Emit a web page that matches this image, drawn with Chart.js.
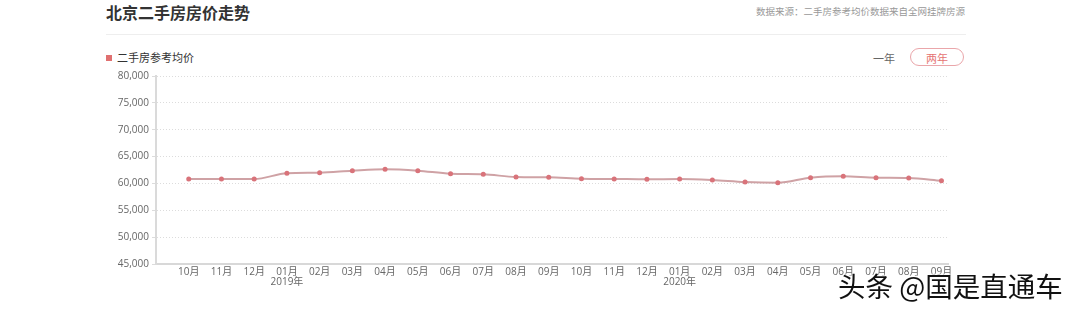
<!DOCTYPE html>
<html>
<head>
<meta charset="utf-8">
<script src="https://cdn.jsdelivr.net/npm/chart.js@4.4.0/dist/chart.umd.min.js"></script>
<style>
  body { margin:0; width:1080px; height:309px; background:#fff; position:relative; overflow:hidden;
         font-family:"Noto Sans CJK SC","Noto Sans",sans-serif; }
  .title { position:absolute; left:106px; top:0px; font-size:16px; font-weight:bold; color:#333; }
  .src { position:absolute; right:115px; top:4px; font-size:9.5px; color:#999; }
  .sep { position:absolute; left:106px; top:34px; width:860px; height:1px; background:#eee; }
  .legend { position:absolute; left:106px; top:49px; font-size:11px; color:#333; }
  .legend i { display:inline-block; width:6px; height:6px; background:#e07070; margin-right:5px; vertical-align:1px; }
  .yr1 { position:absolute; left:873px; top:50px; font-size:11px; color:#666; }
  .yr2 { position:absolute; left:910px; top:48px; width:54px; height:18px; border:1px solid #eaa6aa; border-radius:10px;
         font-size:11px; color:#e57373; text-align:center; line-height:18px; box-sizing:border-box; }
  #box { position:absolute; left:100px; top:66px; width:860px; height:226px; }
  .wm { position:absolute; left:838px; top:265px; font-size:27.5px; color:#111; white-space:nowrap;
        text-shadow:0 0 2px #fff, 0 0 2px #fff, 0 0 3px #fff; }
</style>
</head>
<body>
<div class="title">北京二手房房价走势</div>
<div class="src">数据来源：二手房参考均价数据来自全网挂牌房源</div>
<div class="sep"></div>
<div class="legend"><i></i>二手房参考均价</div>
<div class="yr1">一年</div>
<div class="yr2">两年</div>
<div id="box"><canvas id="myChart"></canvas></div>
<div class="wm">头条 @国是直通车</div>
<script>
var months = ["10月","11月","12月",["01月","2019年"],"02月","03月","04月","05月","06月","07月","08月","09月",
              "10月","11月","12月",["01月","2020年"],"02月","03月","04月","05月","06月","07月","08月","09月"];
var prices = [60830,60830,60830,61890,62000,62370,62630,62370,61810,61700,61200,61140,
              60880,60830,60770,60830,60640,60270,60140,61070,61330,61070,61010,60510];
var yTicks = [45000,80000,5000];

var pts = [];
for (var i = 0; i < prices.length; i++) {
    pts.push({x: i, y: prices[i]});
}

function numberWithCommas(x) {
    return x.toString().replace(/\B(?=(\d{3})+(?!\d))/g, ",");
}

var ctx = document.getElementById("myChart").getContext('2d');
var myChart = new Chart(ctx, {
    type: 'line',
    data: {
        datasets: [{
            label: "二手房参考均价",
            data: pts,
            borderColor: "#cfa2a5",
            borderWidth: 2,
            tension: 0.35,
            cubicInterpolationMode: 'monotone',
            pointRadius: 2.5,
            pointBackgroundColor: "#d9737a",
            pointBorderColor: "#d9737a",
            pointBorderWidth: 0,
            fill: false
        }]
    },
    options: {
        responsive: true,
        maintainAspectRatio: false,
        animation: false,
        layout: { padding: { top: 10, right: 12, left: 0, bottom: 0 } },
        plugins: { legend: { display: false }, tooltip: { enabled: false } },
        scales: {
            x: {
                type: 'linear',
                min: -1,
                max: 23.2,
                afterFit: function (s) { s.height = 28; },
                grid: { display: false, tickLength: 0 },
                border: { display: true, color: "#d8d8d8", width: 2 },
                ticks: {
                    stepSize: 1,
                    includeBounds: false,
                    autoSkip: false,
                    maxRotation: 0,
                    padding: 3,
                    color: "#666",
                    font: { size: 10, family: "'Open Sans','Noto Sans CJK SC',sans-serif", lineHeight: 1.0 },
                    callback: function (v) {
                        if (v < 0 || v !== Math.round(v) || v >= months.length) return '';
                        return months[v];
                    }
                }
            },
            y: {
                min: yTicks[0],
                max: yTicks[1],
                afterFit: function (s) { s.width = 56; },
                grid: { color: "#dcdcdc", tickLength: 4, drawTicks: true },
                border: { display: true, color: "#dadada", width: 2, dash: [1, 2] },
                ticks: {
                    stepSize: yTicks[2],
                    padding: 3,
                    color: "#666",
                    font: { size: 10, family: "'Open Sans',sans-serif" },
                    callback: function (v) { return numberWithCommas(v); }
                }
            }
        }
    }
});
</script>
</body>
</html>
